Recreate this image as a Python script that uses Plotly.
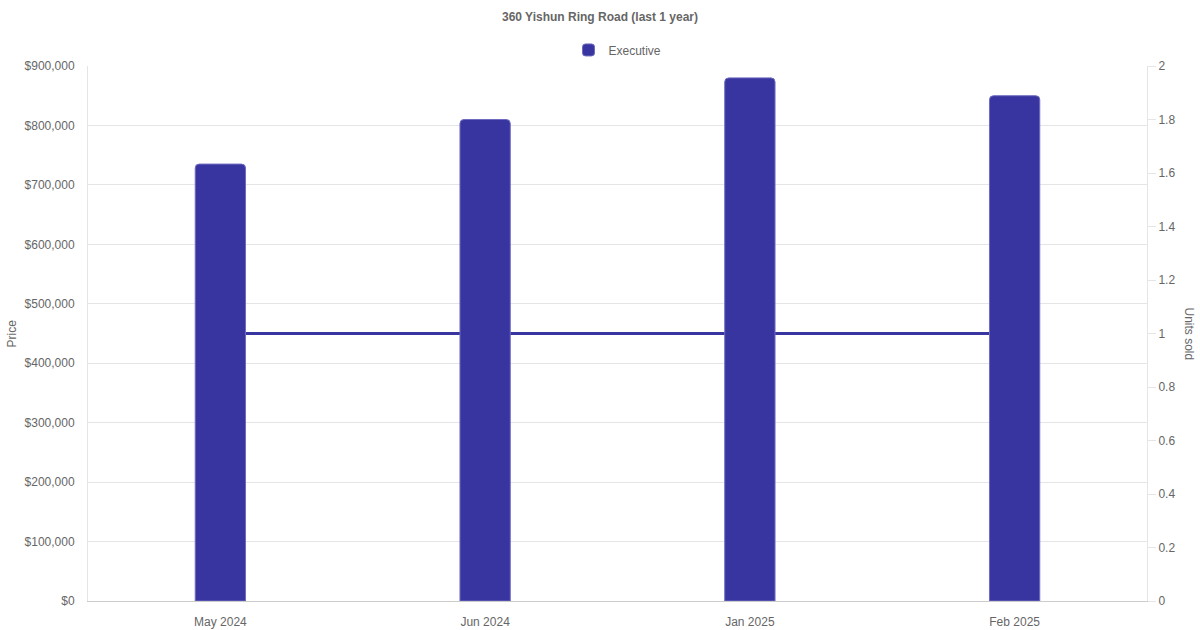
import plotly.graph_objects as go

months = ["May 2024", "Jun 2024", "Jan 2025", "Feb 2025"]
price = [735000, 810000, 880000, 850000]
units_sold = [1, 1, 1, 1]

price_ticks = list(range(0, 900001, 100000))
price_labels = ["${:,}".format(v) for v in price_ticks]
unit_ticks = [round(i * 0.2, 1) for i in range(11)]

bar_color = "#3835a0"
grid = "#e5e5e5"
txt = "#666666"

fig = go.Figure()

# units sold line sits on the base axis so the price bars draw over it
fig.add_trace(go.Scatter(
    x=months, y=units_sold, mode="lines", name="Units sold",
    line=dict(color=bar_color, width=3), yaxis="y", showlegend=False,
    hoverinfo="skip"))

fig.add_trace(go.Bar(
    x=months, y=price, name="Executive", yaxis="y2",
    marker=dict(color=bar_color, line=dict(color="#6f6cc0", width=1),
                cornerradius=4)))

fig.update_layout(
    width=1200, height=630,
    paper_bgcolor="white", plot_bgcolor="white",
    font=dict(family="Liberation Sans, Arial, sans-serif", size=12, color=txt),
    margin=dict(l=88, r=53, t=66, b=29),
    bargap=0.81,
    title=dict(text="<b>360 Yishun Ring Road (last 1 year)</b>", x=0.5, xanchor="center",
               y=0.973, yanchor="middle", font=dict(size=12, color=txt)),
    legend=dict(orientation="h", x=0.5, xanchor="center", y=1.03, yanchor="middle",
                font=dict(size=12, color=txt)),
    xaxis=dict(type="category", showgrid=False, showline=True, linecolor="#cccccc",
               ticks="", ticklabelstandoff=10, automargin=False,
               tickfont=dict(size=12, color=txt)),
    yaxis=dict(side="right", range=[0, 2], tickvals=unit_ticks, showgrid=False,
               showline=True, linecolor=grid, ticks="outside", ticklen=8,
               tickcolor=grid, zeroline=False, automargin=False,
               tickfont=dict(size=12, color=txt)),
    yaxis2=dict(side="left", overlaying="y", range=[0, 900000], tickvals=price_ticks,
                ticktext=price_labels, showgrid=True, gridcolor=grid,
                showline=True, linecolor=grid, zeroline=False, ticks="",
                ticklabelstandoff=10, automargin=False,
                tickfont=dict(size=12, color=txt)),
    annotations=[
        dict(text="Units sold", xref="paper", yref="paper", x=1.0, xshift=42,
             xanchor="center", y=0.5, textangle=90, showarrow=False,
             font=dict(size=12, color=txt)),
        dict(text="Price", xref="paper", yref="paper", x=0, xshift=-77,
             xanchor="center", y=0.5, textangle=-90, showarrow=False,
             font=dict(size=12, color=txt)),
    ],
)

fig.write_html("out.html", config={"displayModeBar": False},
               post_script="document.body.style.margin='0';")
